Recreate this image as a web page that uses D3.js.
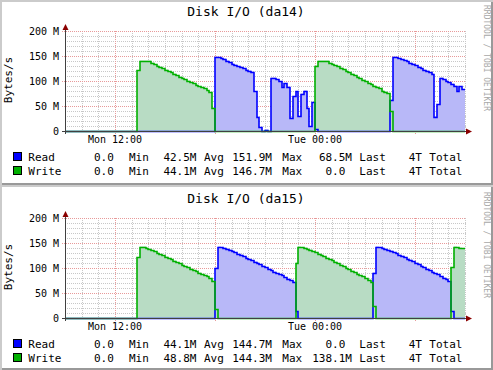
<!DOCTYPE html>
<html>
  <head>
    <!-- load the d3 v7 javascript library -->
    <script src="https://d3js.org/d3.v7.min.js"></script>
    <style>
      body { margin: 0; background: #ffffff; }
      text { font-family: "DejaVu Sans Mono", monospace; white-space: pre; }
    </style>
  </head>
  <body>

    <script>

    // ten minute samples, Mon 09:00 -> Tue 09:00, values in MBytes/s
    var startTime = new Date(2006, 4, 1, 9, 0);
    var endTime = new Date(2006, 4, 2, 9, 0);
    var stepMinutes = 10;

    var da14Read = [
      0, 0, 0, 0, 0, 0, 0, 0, 0, 0, 0, 0,
      0, 0, 0, 0, 0, 0, 0, 0, 0, 0, 0, 0,
      0, 0, 0, 0, 0, 0, 0, 0, 0, 0, 0, 0,
      0, 0, 0, 0, 0, 0, 0, 0, 0, 0, 0, 0,
      0, 0, 0, 0, 0, 0, 149, 148, 147, 145, 141, 138,
      135, 133, 130, 128, 126, 123, 121, 119, 80, 29, 7, 1,
      3, 1, 107, 107, 104, 100, 88, 96, 89, 27, 70, 80,
      30, 75, 81, 47, 9, 58, 4, 0, 0, 0, 0, 0,
      0, 0, 0, 0, 0, 0, 0, 0, 0, 0, 0, 0,
      0, 0, 0, 0, 0, 0, 0, 0, 0, 63, 149, 148,
      146, 144, 142, 140, 137, 135, 132, 129, 126, 123, 121, 118,
      115, 29, 54, 107, 104, 101, 98, 95, 91, 81, 90, 83
    ];
    var da14Write = [
      0, 0, 0, 0, 0, 0, 0, 0, 0, 0, 0, 0,
      0, 0, 0, 0, 0, 0, 0, 0, 0, 0, 0, 0,
      0, 0, 122, 141, 141, 141, 141, 137, 134, 131, 129, 126,
      123, 120, 118, 115, 112, 109, 107, 104, 101, 98, 96, 93,
      90, 87, 85, 82, 78, 47, 0, 0, 0, 0, 0, 0,
      0, 0, 0, 0, 0, 0, 0, 0, 0, 0, 0, 0,
      0, 0, 0, 0, 0, 0, 0, 0, 0, 0, 0, 0,
      0, 0, 0, 0, 0, 0, 131, 141, 141, 141, 141, 137,
      135, 132, 130, 127, 124, 121, 118, 115, 112, 109, 106, 103,
      100, 97, 94, 91, 88, 85, 81, 79, 76, 41, 0, 0,
      0, 0, 0, 0, 0, 0, 0, 0, 0, 0, 0, 0,
      0, 0, 0, 0, 0, 0, 0, 0, 0, 0, 0, 0
    ];
    var da15Read = [
      0, 0, 0, 0, 0, 0, 0, 0, 0, 0, 0, 0,
      0, 0, 0, 0, 0, 0, 0, 0, 0, 0, 0, 0,
      0, 0, 0, 0, 0, 0, 0, 0, 0, 0, 0, 0,
      0, 0, 0, 0, 0, 0, 0, 0, 0, 0, 0, 0,
      0, 0, 0, 0, 0, 0, 101, 143, 142, 141, 139, 137,
      135, 132, 129, 127, 124, 121, 118, 116, 113, 111, 108, 105,
      102, 99, 96, 93, 90, 87, 85, 82, 79, 76, 73, 15,
      0, 0, 0, 0, 0, 0, 0, 0, 0, 0, 0, 0,
      0, 0, 0, 0, 0, 0, 0, 0, 0, 0, 0, 0,
      0, 0, 0, 91, 143, 142, 141, 139, 137, 135, 132, 130,
      127, 125, 122, 119, 117, 114, 111, 108, 105, 102, 99, 96,
      93, 90, 87, 84, 81, 78, 74, 15, 0, 0, 0, 0
    ];
    var da15Write = [
      0, 0, 0, 0, 0, 0, 0, 0, 0, 0, 0, 0,
      0, 0, 0, 0, 0, 0, 0, 0, 0, 0, 0, 0,
      0, 0, 122, 143, 143, 141, 139, 136, 134, 131, 128, 126,
      123, 120, 118, 115, 112, 110, 107, 104, 102, 99, 96, 94,
      91, 88, 86, 83, 80, 75, 19, 0, 0, 0, 0, 0,
      0, 0, 0, 0, 0, 0, 0, 0, 0, 0, 0, 0,
      0, 0, 0, 0, 0, 0, 0, 0, 0, 0, 0, 111,
      143, 142, 141, 139, 137, 134, 132, 129, 127, 124, 121, 118,
      116, 113, 110, 107, 104, 101, 98, 95, 92, 89, 86, 83,
      80, 77, 73, 25, 0, 0, 0, 0, 0, 0, 0, 0,
      0, 0, 0, 0, 0, 0, 0, 0, 0, 0, 0, 0,
      0, 0, 0, 0, 0, 0, 0, 102, 143, 142, 141, 140
    ];

    // axis ticks and legend text
    var yTicks = [0, 50, 100, 150, 200];
    var yTickLabels = ["0", "50 M", "100 M", "150 M", "200 M"];
    var seriesNames = ["Read", "Write"];
    var statNames = ["Min", "Avg", "Max", "Last", "Total"];
    var da14Stats = [["0.0 ", "42.5M", "151.9M", "68.5M", "4T"],
                     ["0.0 ", "44.1M", "146.7M", "0.0 ", "4T"]];
    var da15Stats = [["0.0 ", "44.1M", "144.7M", "0.0 ", "4T"],
                     ["0.0 ", "48.8M", "144.3M", "138.1M", "4T"]];

    // layout
    var w = 493;
    var h = 370;
    var readLine = "#0000ff", readFill = "#b8b8f8";
    var writeLine = "#00b000", writeFill = "#b8dcc4";

    var svg = d3.select("body")
      .append("svg")
      .attr("width", w)
      .attr("height", h);

    var x = d3.scaleTime().domain([startTime, endTime]).range([65, 465]);
    var y = d3.scaleLinear().domain([0, 200]).range([131, 31]);

    function px(v) { return Math.round(v) + 0.5; }

    // turn a list of samples into points for a step line
    function toPoints(values) {
      var pts = values.map(function(v, i) {
        return { t: d3.timeMinute.offset(startTime, i * stepMinutes), v: v };
      });
      pts.push({ t: endTime, v: values[values.length - 1] });
      return pts;
    }

    var area = d3.area()
      .curve(d3.curveStepAfter)
      .x(function(d) { return Math.round(x(d.t)); })
      .y0(y(0))
      .y1(function(d) { return y(d.v); });

    var line = d3.line()
      .curve(d3.curveStepAfter)
      .x(function(d) { return Math.round(x(d.t)); })
      .y(function(d) { return px(y(d.v)); });

    function drawBorder(top, height) {
      var b = svg.append("g").attr("transform", "translate(0," + top + ")");
      b.append("rect").attr("x", 0).attr("y", 0).attr("width", w).attr("height", height).attr("fill", "#cbcbcb");
      b.append("rect").attr("x", 2).attr("y", 2).attr("width", w - 2).attr("height", height - 2).attr("fill", "#999999");
      b.append("rect").attr("x", 2).attr("y", 2).attr("width", w - 4).attr("height", height - 4).attr("fill", "#ffffff");
    }

    function drawPanel(offsetY, title, readValues, writeValues, stats) {
      var g = svg.append("g").attr("transform", "translate(0," + offsetY + ")");

      // title
      g.append("text")
        .attr("x", 246).attr("y", 16)
        .attr("text-anchor", "middle")
        .attr("font-size", "13px")
        .attr("fill", "#000")
        .text(title);

      // watermark
      g.append("text")
        .attr("transform", "translate(484,58) rotate(90)")
        .attr("text-anchor", "middle")
        .attr("font-size", "8px")
        .attr("fill", "#a8a8a8")
        .text("RRDTOOL / TOBI OETIKER");

      // minor grid
      var minorX = x.ticks(d3.timeHour.every(1)).filter(function(d) { return d.getHours() % 6 != 0; });
      var minorY = d3.range(10, 201, 10).filter(function(d) { return d % 50 != 0; });
      g.selectAll(".minorx").data(minorX).enter().append("line")
        .attr("x1", function(d) { return px(x(d)); }).attr("x2", function(d) { return px(x(d)); })
        .attr("y1", 31).attr("y2", 131)
        .attr("stroke", "#c8c8c8").attr("stroke-dasharray", "1,1");
      g.selectAll(".minory").data(minorY).enter().append("line")
        .attr("x1", 65).attr("x2", 466)
        .attr("y1", function(d) { return px(y(d)); }).attr("y2", function(d) { return px(y(d)); })
        .attr("stroke", "#c8c8c8").attr("stroke-dasharray", "1,1");

      // major grid
      var majorX = x.ticks(d3.timeHour.every(6)).filter(function(d) { return +d > +startTime; });
      g.selectAll(".majorx").data(majorX).enter().append("line")
        .attr("x1", function(d) { return px(x(d)); }).attr("x2", function(d) { return px(x(d)); })
        .attr("y1", 31).attr("y2", 134)
        .attr("stroke", "#e89a9a").attr("stroke-dasharray", "1,1");
      g.selectAll(".majory").data(yTicks.slice(1)).enter().append("line")
        .attr("x1", 62).attr("x2", 466)
        .attr("y1", function(d) { return px(y(d)); }).attr("y2", function(d) { return px(y(d)); })
        .attr("stroke", "#e89a9a").attr("stroke-dasharray", "1,1");

      // data areas then lines
      var readPts = toPoints(readValues);
      var writePts = toPoints(writeValues);
      g.append("path").datum(readPts).attr("d", area).attr("fill", readFill);
      g.append("path").datum(writePts).attr("d", area).attr("fill", writeFill);
      g.append("path").datum(readPts).attr("d", line)
        .attr("fill", "none").attr("stroke", readLine).attr("stroke-width", 1.6);
      g.append("path").datum(writePts).attr("d", line)
        .attr("fill", "none").attr("stroke", writeLine).attr("stroke-width", 1.6);

      // axes
      g.append("line").attr("x1", 62).attr("x2", 468).attr("y1", px(y(0))).attr("y2", px(y(0)))
        .attr("stroke", "#404040");
      g.append("line").attr("x1", 65.5).attr("x2", 65.5).attr("y1", 134).attr("y2", 28)
        .attr("stroke", "#404040");
      g.append("path").attr("d", "M62.5,30 L65.5,24 L68.5,30 Z").attr("fill", "#8b0000");
      g.append("path").attr("d", "M466,128.5 L472,131.5 L466,134.5 Z").attr("fill", "#8b0000");

      // y tick labels
      g.selectAll(".ylab").data(yTicks).enter().append("text")
        .attr("x", 59).attr("y", function(d) { return y(d) + 4; })
        .attr("text-anchor", "end")
        .attr("font-size", "10px")
        .text(function(d, i) { return yTickLabels[i]; });

      // unit label
      g.append("text")
        .attr("transform", "translate(12,80) rotate(-90)")
        .attr("text-anchor", "middle")
        .attr("font-size", "11px")
        .text("Bytes/s");

      // x tick labels every 12 hours
      g.selectAll(".xlab").data(x.ticks(d3.timeHour.every(12))).enter().append("text")
        .attr("x", function(d) { return x(d); }).attr("y", 143)
        .attr("text-anchor", "middle")
        .attr("font-size", "10px")
        .text(function(d) { return d3.timeFormat("%a %H:%M")(d); });

      // legend
      var colors = [readLine, writeLine];
      var valueEnds = [120.5, 196.5, 272, 352, 422];
      var labelStarts = [129, 204, 282.3, 359.3, 429.3];
      seriesNames.forEach(function(name, r) {
        var base = 161 + r * 14;
        g.append("rect")
          .attr("x", 13.5).attr("y", base - 8.5).attr("width", 8).attr("height", 8)
          .attr("fill", colors[r]).attr("stroke", "#000");
        g.append("text").attr("x", 28.3).attr("y", base).attr("font-size", "11px").text(name);
        stats[r].forEach(function(val, c) {
          g.append("text").attr("x", valueEnds[c]).attr("y", base)
            .attr("text-anchor", "end").attr("font-size", "11px").text(val);
          g.append("text").attr("x", labelStarts[c]).attr("y", base)
            .attr("font-size", "11px").text(statNames[c]);
        });
      });
    }

    drawBorder(0, 185);
    drawBorder(185, 185);
    drawPanel(0, "Disk I/O (da14)", da14Read, da14Write, da14Stats);
    drawPanel(187, "Disk I/O (da15)", da15Read, da15Write, da15Stats);

    </script>
  </body>
</html>
